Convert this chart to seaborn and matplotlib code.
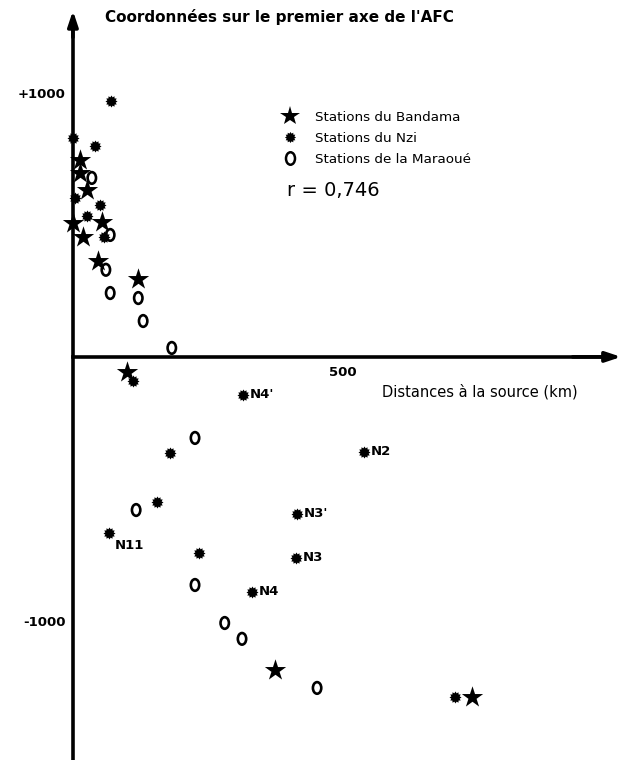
import numpy as np
import matplotlib
matplotlib.use("Agg")
import matplotlib.pyplot as plt
import seaborn as sns
from matplotlib.path import Path
from matplotlib.lines import Line2D
from matplotlib.transforms import Affine2D

# Distances to source (km) and first AFC axis coordinates
bandama_dist = [0, 13, 13, 26, 54, 19, 46, 121, 100, 374, 739]
bandama_val = [508, 746, 697, 633, 511, 455, 364, 295, -57, -1186, -1288]

nzi_dist = [70, 0, 41, 4, 50, 26, 57, 111, 315, 180, 539, 156, 67, 233, 415, 413, 331, 707]
nzi_val = [970, 830, 800, 602, 576, 534, 455, -91, -144, -364, -360, -549, -667, -742, -595, -761, -890, -1288]
nzi_labels = ["", "", "", "", "", "", "", "", "N4'", "", "N2", "", "N11", "", "N3'", "N3", "N4", ""]

maraoue_dist = [35, 69, 61, 69, 121, 130, 183, 226, 117, 226, 281, 313, 452]
maraoue_val = [678, 462, 330, 242, 223, 136, 34, -307, -580, -864, -1008, -1068, -1254]

legend_labels = ["Stations du Bandama", "Stations du Nzi", "Stations de la Maraoué"]
r_text = "r = 0,746"

sns.set_style("white")
plt.rcParams["font.family"] = ["DejaVu Sans"]
plt.rcParams["text.color"] = "black"
plt.rcParams["xtick.color"] = "black"
plt.rcParams["ytick.color"] = "black"

# marker shapes: serrated blob for Nzi, tall oval for Maraoue
ang = np.linspace(0, 2 * np.pi, 24, endpoint=False)
rad = np.where(np.arange(24) % 2 == 0, 1.0, 0.72)
asterisk = list(zip(rad * np.cos(ang), rad * np.sin(ang)))
oval = Path.unit_circle().transformed(Affine2D().scale(0.72, 1.0))

fig = plt.figure(figsize=(6.25, 7.6), dpi=100)
ax = fig.add_axes([0, 0, 1, 1])
ax.set_xlim(-135, 1022)
ax.set_ylim(-1527, 1352)

sns.scatterplot(x=bandama_dist, y=bandama_val, marker="*", s=260, color="black",
                edgecolor="black", linewidth=0, ax=ax, zorder=3)
sns.scatterplot(x=nzi_dist, y=nzi_val, marker=asterisk, s=75, color="black",
                edgecolor="black", linewidth=0, ax=ax, zorder=3)
sns.scatterplot(x=maraoue_dist, y=maraoue_val, marker=oval, s=70, color="black",
                facecolor="none", edgecolor="black", linewidth=1.9, ax=ax, zorder=3)

for d, v, lab in zip(nzi_dist, nzi_val, nzi_labels):
    if not lab:
        continue
    if lab == "N11":
        ax.annotate(lab, (d, v), xytext=(4, -9), textcoords="offset points",
                    fontsize=9.5, fontweight="bold", va="center", ha="left")
    else:
        ax.annotate(lab, (d, v), xytext=(5, 0), textcoords="offset points",
                    fontsize=9.5, fontweight="bold", va="center", ha="left")

# axes through the origin
for side in ["top", "right"]:
    ax.spines[side].set_visible(False)
for side in ["left", "bottom"]:
    ax.spines[side].set_position(("data", 0))
    ax.spines[side].set_linewidth(2.6)
    ax.spines[side].set_color("black")
ax.spines["left"].set_bounds(-1527, 1280)
ax.spines["bottom"].set_bounds(0, 990)

yt = np.arange(-1400, 1001, 200)
ax.set_yticks(yt)
ax.set_yticklabels(["+1000" if t == 1000 else ("-1000" if t == -1000 else "") for t in yt],
                   fontsize=9.5, fontweight="bold")
xt = np.arange(100, 901, 100)
ax.set_xticks(xt)
ax.set_xticklabels(["500" if t == 500 else "" for t in xt], fontsize=9.5, fontweight="bold")
ax.tick_params(axis="y", direction="out", length=4, width=1.4, pad=1)
ax.tick_params(axis="x", direction="inout", length=5, width=1.2, pad=4)

ax.annotate("", xy=(0, 1322), xytext=(0, 1200),
            arrowprops=dict(arrowstyle="-|>,head_length=0.9,head_width=0.3", lw=2.6, color="black"))
ax.annotate("", xy=(1020, 0), xytext=(920, 0),
            arrowprops=dict(arrowstyle="-|>,head_length=0.9,head_width=0.3", lw=2.6, color="black"))

fig.text(0.168, 0.978, "Coordonnées sur le premier axe de l'AFC", fontsize=11,
         fontweight="bold", va="center", ha="left")
fig.text(0.612, 0.484, "Distances à la source (km)", fontsize=10.5,
         va="center", ha="left")

handles = [
    Line2D([], [], ls="", marker="*", ms=15, color="black", mew=0),
    Line2D([], [], ls="", marker=asterisk, ms=8, color="black", mew=0),
    Line2D([], [], ls="", marker=oval, ms=9, mfc="none", mec="black", mew=1.8),
]
ax.legend(handles, legend_labels, loc="upper left", bbox_to_anchor=(0.44, 0.863),
          frameon=False, fontsize=9.7, handlelength=1.2, handletextpad=1.3,
          labelspacing=0.6, borderpad=0)
fig.text(0.459, 0.75, r_text, fontsize=14, va="center", ha="left")

fig.savefig("out.png", dpi=100)
